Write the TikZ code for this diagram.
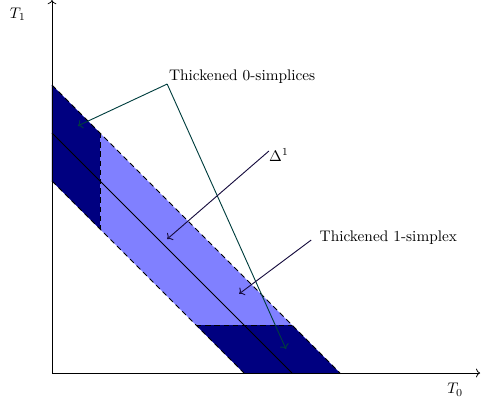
\documentclass[tikz,border=0pt]{standalone}
\usepackage{tikz}
\usetikzlibrary{arrows.meta,calc}
\definecolor{bandlight}{RGB}{128,128,255}
\definecolor{banddark}{RGB}{0,0,128}
\definecolor{tealline}{RGB}{0,62,62}
\definecolor{navyline}{RGB}{22,12,62}
\tikzset{
  axis/.style={->, line width=0.5pt, draw=black},
  edge/.style={dash pattern=on 3.5pt off 2.5pt, line width=0.6pt, draw=black},
  pointer/.style={->, line width=0.6pt, draw=navyline},
  zeropointer/.style={->, line width=0.6pt, draw=tealline},
  lbl/.style={font=\normalsize, inner sep=1pt}
}
\begin{document}
\begin{tikzpicture}[x=1.1cm, y=1.1cm]
  \useasboundingbox (-1.083,-0.708) rectangle (8.938,7.771);

  % thickened simplices
  \fill[bandlight] (0,4) -- (4,0) -- (6,0) -- (0,6) -- cycle;
  \fill[banddark] (0,6) -- (1,5) -- (1,3) -- (0,4) -- cycle;
  \fill[banddark] (3,1) -- (5,1) -- (6,0) -- (4,0) -- cycle;
  \draw[edge] (0,6) -- (6,0);
  \draw[edge] (0,4) -- (4,0);
  \draw[edge] (0,4) -- (0,6);
  \draw[edge] (1,5) -- (1,3);
  \draw[edge] (3,1) -- (5,1);

  % axes
  \coordinate (o) at (0,0);
  \coordinate (xend) at (8.92,0);
  \coordinate (yend) at (0,7.77);
  \draw[axis] (o) -- (xend);
  \draw[axis] (o) -- (yend);
  \node[lbl] (tzero) at (8.40,-0.35) {$T_0$};
  \node[lbl] (tone) at (-0.71,7.48) {$T_1$};

  % the 1-simplex
  \coordinate (va) at (0,5);
  \coordinate (vb) at (5,0);
  \draw[line width=0.6pt] (va) -- (vb);

  % labels
  \node[lbl, anchor=south west] (zerolbl) at (2.40,6.0) {Thickened 0-simplices};
  \coordinate (corner) at (2.40,6.02);
  \coordinate (tipa) at (0.54,5.15);
  \coordinate (tipb) at (4.875,0.50);
  \draw[zeropointer] (corner) -- (tipa);
  \draw[zeropointer] (corner) -- (tipb);

  \node[lbl] (deltalbl) at (4.73,4.54) {$\Delta^1$};
  \coordinate (tipc) at (2.40,2.79);
  \draw[pointer] (4.52,4.625) -- (tipc);

  \node[lbl, anchor=west] (onelbl) at (5.54,2.83) {Thickened 1-simplex};
  \coordinate (tipd) at (3.90,1.65);
  \draw[pointer] (5.40,2.77) -- (tipd);
\end{tikzpicture}
\end{document}
